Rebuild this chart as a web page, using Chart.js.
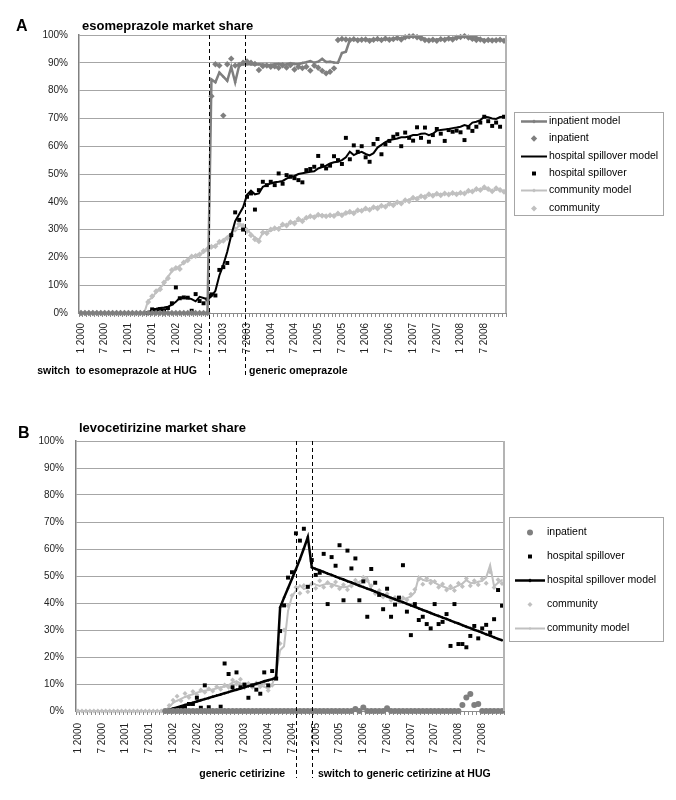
<!DOCTYPE html>
<html>
<head>
<meta charset="utf-8">
<title>esomeprazole / levocetirizine market share</title>
<script src="https://cdn.jsdelivr.net/npm/chart.js@4.4.1/dist/chart.umd.min.js"></script>
<style>
  html, body { margin: 0; padding: 0; background: #fff; }
  .panel { position: relative; width: 676px; height: 400px; }
</style>
</head>
<body>
<div class="panel"><canvas id="chartA"></canvas></div>
<div class="panel"><canvas id="chartB"></canvas></div>
<script>
/* categories: one per month, Jan 2000 .. Dec 2008 */
const firstYear = 2000, lastYear = 2008;
const months = [];
for (let y = firstYear; y <= lastYear; y++) for (let m = 1; m <= 12; m++) months.push(m + ' ' + y);
const labelledMonths = [1, 7];

/* ---------- A: esomeprazole (one row per year) ---------- */
const inpModelA = [
  0,0,0,0,0,0,0,0,0,0,0,0,
  0,0,0,0,0,0,0,0,0,0,0,0,
  0,0,0,0,0,0,0,0,0,84,83,86.5,
  85,83.5,88.5,83,89,89.5,89.5,89.5,89.3,89.5,89.4,89.2,
  89.3,89.5,89.6,89.4,89.5,89.8,89.6,89.5,89.9,90.2,90.6,90,
  90.4,91.4,90.3,90.4,90.1,90,93.5,94,98.2,98.3,98.4,98.3,
  98.3,98.4,98.3,98.5,98.4,98.5,98.6,98.7,98.8,98.9,99.1,99.3,
  99.5,99.6,99.4,98.4,98.3,98.2,98.4,98.5,98.6,98.8,98.9,99.1,
  99.4,99.5,99.5,99.3,99.2,98.5,98.3,98.2,98.3,98.2,98.3,98.2
];
const inpA = [
  0,0,0,0,0,0,0,0,0,0,0,0,
  0,0,0,0,0,0,0,0,0,0,0,0,
  0,0,0,0,0,0,0,0,0,78,89.5,89,
  71,89.5,91.5,89,89.2,90,90.5,90,89.6,87.4,88.8,89,
  88.6,88.7,88.2,89.1,88.3,89.2,87.6,88.6,88.1,88.6,87.2,89,
  88.2,87.1,86.2,86.8,88,98.2,98.6,98.4,98.2,98.5,98.1,98.3,
  98.4,97.9,98.3,98.6,98.2,98.7,98.3,98.5,98.9,98.4,99.2,99.5,
  99.6,99.2,98.8,98.2,98,98.3,97.9,98.5,98.3,98.7,98.4,99,
  99.3,99.6,99.1,98.6,98.2,98.4,97.9,98.2,98,98.1,98.3,97.9
];
const hspModelA = [
  null,null,null,null,null,null,null,null,null,null,null,null,
  null,null,null,null,null,0,1.3,1.5,1.8,2,2.3,2.9,
  4,5.5,5.6,5.4,5,4.2,5.8,5.4,4.9,6,8,13.5,
  17.3,22,28,33,35.5,38,42.5,44,42.7,43,45.4,46,
  46.6,47,47.2,47.5,48.3,49,49.3,50,50.3,50.5,50.8,51,
  52,52.5,53,53.8,54.2,54.4,55,56,58,56.8,57.5,58,
  57.2,56.7,57.5,59.5,60.5,61.5,62.2,62.5,62.8,63.2,63.2,63.5,
  64,64,64.5,64.6,64,64.5,65.6,65.8,66,66.2,66.5,66.7,
  67,67.6,67.2,68.5,68.8,69.4,70.6,70.4,70,69.8,70.5,70.6
];
const hspA = [
  null,null,null,null,null,null,null,null,null,null,null,null,
  null,null,null,null,null,0,1.3,0.7,1.4,1,1.8,3.5,
  9.2,5.3,5.6,5.5,0.8,6.8,4.3,3.5,4.9,6.7,6.3,15.5,
  16.5,18,28,36.2,33.5,30,41.8,43,37.2,44.2,47.2,46,
  47.2,46,50.2,46.5,49.6,49,48.5,47.8,47,51.4,51.8,52.6,
  56.5,53,52,53,56.4,55,53.6,63,55.3,60.3,58,60,
  56,54.4,60.8,62.6,57.1,60.7,61.9,63.4,64.3,60,64.9,63,
  62,66.8,63,66.7,61.6,64,66.2,64.5,61.9,65.8,65.2,65.6,
  65,62.2,66.7,65.5,67,68.5,70.6,69,67.3,68.5,67,70.6
];
const comModelA = [
  0,0,0,0,0,0,0,0,0,0,0,0,
  0,0,0,0,0,4.5,5.5,7.5,9,10.5,13,15,
  16,17,18,19.3,20,20.8,21.2,21.8,22.8,23.5,24.4,25.2,
  26.2,27.3,28.5,29.8,31.5,31.8,30.2,28.5,27.2,26.3,28.8,29.2,
  29.6,30.2,30.6,31.5,31.8,32.3,32.8,33.2,33.5,34,34.6,34.8,
  35,35.3,35,34.8,35.3,35.4,35.5,35.8,36,36.3,36.6,37,
  37.2,37.4,37.8,38.2,38.3,38.6,39,39.2,39.5,39.8,40.3,40.8,
  41.2,41.5,41.8,42.2,42.4,42.5,42.6,42.7,42.8,42.8,42.9,43,
  43,43.2,43.6,44,44.2,44.5,44.8,44.4,43.8,44.4,44.6,43.4
];
const comA = [
  0,0,0,0,0,0,0,0,0,0,0,0,
  0,0,0,0,0,4,6,7.8,8.5,11,12.5,15.5,
  16.2,15.8,18.2,19,20.3,20.5,21,22.3,23,23.8,24,25.6,
  26,27,28.2,30,32,31,29.5,28,26.5,25.8,29,28.7,
  30,30.5,30.2,31.8,31.5,32.6,32.2,33.8,33,34.3,34.8,34.4,
  35.3,35,34.8,35.2,34.9,35.8,35.2,36,36.4,35.9,37,36.8,
  37.6,37.1,38,37.6,38.6,38.2,39.3,38.8,39.8,39.4,40.6,40.2,
  41.5,41,42,41.6,42.7,42.2,42.9,42.4,43,42.6,43.2,42.7,
  43.3,43,44,43.7,44.6,44.2,45.2,44.6,43.8,44.9,44.2,43.6
];
const eventsA = [32.4, 41.5];   // switch at HUG, generic omeprazole (month index)

/* ---------- B: levocetirizine ---------- */
const inpB = [
  null,null,null,null,null,null,null,null,null,null,null,null,
  null,null,null,null,null,null,null,null,null,null,0,0,
  0,0,0,0,0,0,0,0,0,0,0,0,
  0,0,0,0,0,0,0,0,0,0,0,0,
  0,0,0,0,0,0,0,0,0,0,0,0,
  0,0,0,0,0,0,0,0,0,0,0.7,0,
  1.3,0,0,0,0,0,1,0,0,0,0,0,
  0,0,0,0,0,0,0,0,0,0,0,0,
  0,2.2,5,6.3,2.2,2.6,0,0,0,0,0,0
];
const hspB = [
  null,null,null,null,null,null,null,null,null,null,null,null,
  null,null,null,null,null,null,null,null,null,null,0,0,
  0,0,1,1.2,2.6,2.6,4.9,1.2,9.5,1.4,0,0,
  1.6,17.6,13.7,8.8,14.3,8.8,9.8,4.9,9.5,7.9,6.4,14.3,
  9.5,14.8,12,29.6,39.1,49.4,51.4,65.8,63.1,67.5,46,55.9,
  50.4,51.2,58.2,39.6,57,53.8,61.4,41,59.4,52.8,56.5,41,
  48,34.9,52.6,47.5,43,37.7,45.3,34.9,39.4,42,54,36.8,
  28.1,39.6,33.7,34.9,32.2,30.6,39.6,32.2,33,35.9,24.1,39.6,
  24.8,24.8,23.6,27.8,31.5,26.9,30.6,31.9,29,34,44.8,39
];
const hspModelB = [
  null,null,null,null,null,null,null,null,null,null,null,null,
  null,null,null,null,null,null,null,null,null,null,0,0.5,
  0.9,1.3,1.8,2.2,2.6,3.1,3.5,4,4.4,4.8,5.3,5.7,
  6.1,6.6,7,7.5,7.9,8.3,8.8,9.2,9.6,10.1,10.5,11,
  11.4,11.8,12.3,38.3,42,45.5,49,52.5,56.2,60.2,64.4,53.2,
  52.6,52.1,51.5,50.9,50.4,49.8,49.2,48.7,48.1,47.6,47,46.4,
  45.9,45.3,44.8,44.2,43.6,43.1,42.5,41.9,41.4,40.8,40.3,39.7,
  39.1,38.6,38,37.4,36.9,36.3,35.7,35.2,34.6,34.1,33.5,32.9,
  32.4,31.8,31.2,30.7,30.1,29.6,29,28.4,27.9,27.3,26.7,26.2
];
const comB = [
  0,0,0,0,0,0,0,0,0,0,0,0,
  0,0,0,0,0,0,0,0,0,0,0,2,
  4,5.5,3.8,6.5,5,7.2,6,7.8,6.9,8.2,7.4,9,
  8.1,9.6,8.8,11.5,10,11.8,8.6,10.2,8.8,10.4,9,10.2,
  7.6,9.5,12.5,25,30,39,42.8,45.8,43.6,46.5,44.2,47,
  45.5,48.2,45.8,47.6,46.2,47.8,45.3,46.8,44.9,46.3,48.4,47,
  49.5,48.3,46.4,43.5,44.6,42.2,43.4,41,42,40.6,41.9,41.2,
  43.2,45,48.8,46.9,49.2,47.4,48,45.8,47,44.8,46.2,44.6,
  47.3,46.1,49.1,46.4,48.2,46.8,49,47.3,51.5,45.7,48.6,47.2
];
const comModelB = [
  0,0,0,0,0,0,0,0,0,0,0,0,
  0,0,0,0,0,0,0,0,0,0,0,1.5,
  3,3.8,4.5,5.2,5.8,6.2,6.8,7.2,7.5,7.8,8,8.4,
  8.8,9,9.6,10.5,11,10.2,9.4,9.2,9.6,9.8,9.5,9,
  8.2,9.8,14,22.5,24,37,42.5,44.5,46.5,45.2,45.6,47.5,
  46.8,46.3,46.8,47.2,47,46.5,46,45.8,46,46.8,47.5,47.9,
  48.5,49.2,45,44.2,43.5,42.8,42.3,41.5,41.2,41,41.4,41.8,
  42.4,44,49.7,48.6,48.2,48.5,47.5,46.7,46.2,45.6,45.2,45.8,
  46.5,47.2,48.5,47.5,47.3,47.9,48.2,49.5,54,46.2,47.5,48.5
];
const eventsB = [54.9, 59.1];   // generic cetirizine, switch at HUG

/* ============================================================ */
const FONT = "'Liberation Sans', Arial, Helvetica, sans-serif";
const GRAY = '#7f7f7f', LIGHT = '#c0c0c0', BLACK = '#000000';
Chart.defaults.font.family = FONT;

function lineSet(label, data, color, width, marker) {
  return {
    label, data, borderColor: color, borderWidth: width, tension: 0, clip: false,
    pointStyle: marker ? marker.style : 'circle', pointRadius: marker ? marker.radius : 0,
    pointBackgroundColor: color, pointBorderWidth: 0, pointHoverRadius: 0,
  };
}
function dotSet(label, data, color, style, radius) {
  return {
    label, data, showLine: false, borderColor: color, borderWidth: 0, clip: false,
    pointStyle: style, pointRadius: radius, pointBackgroundColor: color,
    pointBorderWidth: 0, pointHoverRadius: 0,
  };
}

function marker(ctx, style, r, x, y) {
  ctx.beginPath();
  if (style === 'rect') { const s = Math.SQRT1_2 * r; ctx.rect(x - s, y - s, 2 * s, 2 * s); }
  else if (style === 'rectRot') { ctx.moveTo(x - r, y); ctx.lineTo(x, y - r); ctx.lineTo(x + r, y); ctx.lineTo(x, y + r); ctx.closePath(); }
  else ctx.arc(x, y, r, 0, Math.PI * 2);
  ctx.fill();
}

/* 제목, 이벤트 점선, 주석, 범례 */
const decorPlugin = {
  id: 'decor',
  afterDraw(chart, args, o) {
    const ctx = chart.ctx, a = chart.chartArea, xs = chart.scales.x;
    ctx.save();

    // plot area border (top + right)
    ctx.strokeStyle = '#a6a6a6'; ctx.lineWidth = 1;
    ctx.beginPath(); ctx.moveTo(a.left, a.top + 0.5); ctx.lineTo(a.right, a.top + 0.5); ctx.stroke();
    ctx.strokeStyle = '#b4b4b4'; ctx.lineWidth = 2;
    ctx.beginPath(); ctx.moveTo(a.right, a.top); ctx.lineTo(a.right, a.bottom); ctx.stroke();

    ctx.fillStyle = '#000'; ctx.textBaseline = 'alphabetic'; ctx.textAlign = 'left';
    ctx.font = 'bold 16px ' + FONT;
    ctx.fillText(o.letter, o.letterX, o.letterY);
    ctx.font = 'bold 13px ' + FONT;
    ctx.fillText(o.title, o.titleX, o.titleY);

    // event lines
    ctx.setLineDash([4, 3]); ctx.strokeStyle = '#000'; ctx.lineWidth = 1;
    o.events.forEach(v => {
      const px = Math.round(xs.getPixelForValue(v)) + 0.5;
      ctx.beginPath(); ctx.moveTo(px, a.top); ctx.lineTo(px, o.eventBottom); ctx.stroke();
    });
    ctx.setLineDash([]);

    ctx.font = 'bold 10.5px ' + FONT;
    o.notes.forEach(n => { ctx.textAlign = n.align; ctx.fillText(n.text, n.x, o.noteY); });

    // legend
    const lg = o.legend;
    ctx.strokeStyle = '#a6a6a6'; ctx.lineWidth = 1;
    ctx.strokeRect(lg.x + 0.5, lg.y + 0.5, lg.w, lg.h);
    ctx.font = '10.5px ' + FONT; ctx.textAlign = 'left'; ctx.textBaseline = 'middle';
    chart.data.datasets.forEach((ds, i) => {
      const y = Math.round(lg.y + lg.first + i * lg.row) + 0.5;
      if (ds.showLine !== false) {
        ctx.strokeStyle = ds.borderColor; ctx.lineWidth = ds.borderWidth;
        ctx.beginPath(); ctx.moveTo(lg.lineX0, y); ctx.lineTo(lg.lineX1, y); ctx.stroke();
      }
      if (ds.pointRadius > 0) {
        ctx.fillStyle = ds.pointBackgroundColor;
        marker(ctx, ds.pointStyle, ds.showLine === false ? ds.pointRadius : ds.pointRadius + 0.5, (lg.lineX0 + lg.lineX1) / 2, y);
      }
      ctx.fillStyle = '#000';
      ctx.fillText(ds.label, lg.textX, y);
    });
    ctx.restore();
  }
};

function makeChart(id, c) {
  return new Chart(document.getElementById(id), {
    type: 'line',
    data: { labels: months, datasets: c.datasets },
    options: {
      responsive: true, maintainAspectRatio: false, animation: false,
      events: [],
      layout: { autoPadding: false, padding: { top: c.top, right: c.right, left: 0, bottom: 0 } },
      plugins: { legend: { display: false }, tooltip: { enabled: false }, decor: c.decor },
      scales: {
        x: {
          type: 'category', offset: true,
          grid: { display: true, drawOnChartArea: false, drawTicks: true, tickLength: 4, offset: true, color: '#8c8c8c' },
          border: { color: '#8c8c8c', width: 1 },
          ticks: {
            autoSkip: false, maxRotation: 90, minRotation: 90, padding: c.xPad,
            color: '#222', font: { size: 10 },
            callback(v) {
              const lab = this.getLabelForValue(v);
              return labelledMonths.includes(parseInt(lab, 10)) ? lab : '';
            },
          },
          afterFit(s) { s.height = c.xHeight; },
        },
        y: {
          min: 0, max: 100,
          ticks: { stepSize: 10, padding: c.yPad, color: '#222', font: { size: 10 }, callback: v => v + '%' },
          grid: { color: '#a6a6a6', drawTicks: false },
          border: { color: '#808080', width: 1.5 },
          afterFit(s) { s.width = c.yWidth; },
        },
      },
    },
    plugins: [decorPlugin],
  });
}

makeChart('chartA', {
  top: 35, right: 170, yWidth: 79, xHeight: 87, xPad: 6, yPad: 11,
  datasets: [
    lineSet('inpatient model', inpModelA, GRAY, 2.5, { style: 'rectRot', radius: 1.5 }),
    dotSet('inpatient', inpA, GRAY, 'rectRot', 3.2),
    lineSet('hospital spillover model', hspModelA, BLACK, 2, null),
    dotSet('hospital spillover', hspA, BLACK, 'rect', 2.8),
    lineSet('community model', comModelA, LIGHT, 2, { style: 'rectRot', radius: 1.5 }),
    dotSet('community', comA, LIGHT, 'rectRot', 3),
  ],
  decor: {
    letter: 'A', letterX: 16, letterY: 31,
    title: 'esomeprazole market share', titleX: 82, titleY: 29.5,
    events: eventsA, eventBottom: 378,
    notes: [
      { text: 'switch  to esomeprazole at HUG', x: 197, align: 'right' },
      { text: 'generic omeprazole', x: 249, align: 'left' },
    ],
    noteY: 374,
    legend: { x: 514, y: 112, w: 149, h: 103, first: 9, row: 17.3, lineX0: 521, lineX1: 547, textX: 549 },
  },
});

makeChart('chartB', {
  top: 41, right: 172, yWidth: 76, xHeight: 89, xPad: 8, yPad: 12,
  datasets: [
    dotSet('inpatient', inpB, GRAY, 'circle', 3),
    dotSet('hospital spillover', hspB, BLACK, 'rect', 2.8),
    lineSet('hospital spillover model', hspModelB, BLACK, 2.5, { style: 'rectRot', radius: 1.5 }),
    dotSet('community', comB, LIGHT, 'rectRot', 2.5),
    lineSet('community model', comModelB, LIGHT, 2, { style: 'rectRot', radius: 1 }),
  ],
  decor: {
    letter: 'B', letterX: 18, letterY: 38,
    title: 'levocetirizine market share', titleX: 79, titleY: 32,
    events: eventsB, eventBottom: 378,
    notes: [
      { text: 'generic cetirizine', x: 285, align: 'right' },
      { text: 'switch to generic cetirizine at HUG', x: 318, align: 'left' },
    ],
    noteY: 376.5,
    legend: { x: 509, y: 117, w: 154, h: 124, first: 14.7, row: 24.1, lineX0: 515, lineX1: 545, textX: 547 },
  },
});
</script>
</body>
</html>
